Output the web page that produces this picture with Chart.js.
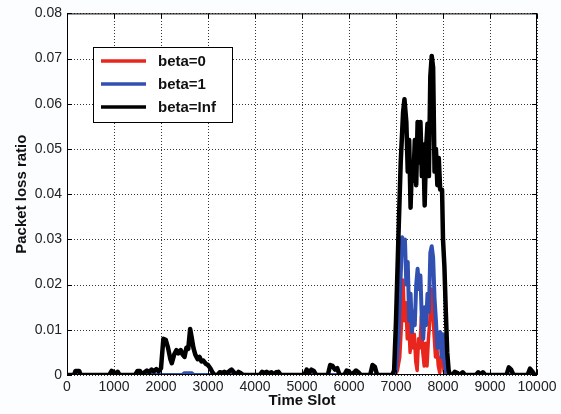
<!DOCTYPE html>
<html>
<head>
<meta charset="utf-8">
<script src="https://cdn.jsdelivr.net/npm/chart.js@4/dist/chart.umd.min.js"></script>
<style>
  html, body { margin: 0; padding: 0; background: #fcfdff; }
  #wrap { width: 561px; height: 414px; }
</style>
</head>
<body>
<div id="wrap"><canvas id="c" width="561" height="414"></canvas></div>
<script>
// ---- data ----
const seriesLabels = ['beta=0', 'beta=1', 'beta=Inf'];
const xTickValues = [0, 1000, 2000, 3000, 4000, 5000, 6000, 7000, 8000, 9000, 10000];
const xTickLabels = ['0', '1000', '2000', '3000', '4000', '5000', '6000', '7000', '8000', '9000', '10000'];
const yTickValues = [0, 0.01, 0.02, 0.03, 0.04, 0.05, 0.06, 0.07, 0.08];
const yTickLabels = ['0', '0.01', '0.02', '0.03', '0.04', '0.05', '0.06', '0.07', '0.08'];

// beta=Inf (black)
const slotsInf = [0,150,180,260,290,900,950,1000,1050,1080,1120,1450,1500,1550,1600,1650,1700,1750,1800,1850,1900,1950,2000,2050,2100,2150,2200,2230,2280,2330,2370,2420,2460,2500,2540,2580,2620,2650,2690,2730,2780,2820,2860,2900,2950,3000,3050,3100,3140,3200,3250,3300,3350,3400,3450,3500,3550,3600,3650,3700,3750,4100,4150,4200,4250,4300,4350,4400,4450,4500,4550,5050,5100,5150,5200,5250,5300,5550,5600,5650,5700,5750,5800,5900,5950,6000,6050,6150,6200,6250,6450,6500,6550,6600,6920,6960,7000,7050,7100,7150,7180,7220,7250,7280,7310,7340,7370,7400,7430,7460,7490,7520,7550,7580,7610,7640,7670,7700,7730,7760,7790,7820,7850,7880,7910,7940,7980,8000,8030,8060,8090,8120,8150,8200,8250,8300,8350,8420,8470,8700,8750,8800,8850,8900,9350,9400,9450,9500,9800,9850,9900,9950,10000];
const lossInf = [0,0,0.0009,0.0009,0,0,0.0009,0.0006,0,0.0007,0,0,0.0009,0.0009,0,0.0006,0.001,0.0006,0.0012,0.0008,0.0013,0.0008,0.0015,0.008,0.0078,0.006,0.0035,0.0026,0.0045,0.0055,0.0048,0.0055,0.0045,0.004,0.006,0.0058,0.0102,0.0085,0.006,0.0045,0.0035,0.004,0.003,0.0032,0.0025,0.0022,0.0015,0.0005,0,0,0.0006,0.0005,0.0007,0.0004,0.0008,0.0012,0.0006,0,0.0007,0.0004,0,0,0.0007,0.0005,0.0007,0.0004,0.0006,0,0.0006,0.0007,0,0,0.0012,0.0005,0.0012,0.0009,0,0,0.0022,0.002,0.0012,0.0015,0,0,0.001,0.0008,0,0.001,0.0006,0,0,0.0022,0.0018,0,0,0.001,0.012,0.03,0.047,0.058,0.061,0.056,0.045,0.052,0.037,0.047,0.043,0.052,0.042,0.056,0.047,0.056,0.044,0.051,0.0375,0.05,0.0556,0.044,0.066,0.0706,0.068,0.045,0.05,0.042,0.048,0.041,0.041,0.03,0.024,0.014,0.005,0.001,0,0,0.0007,0.0005,0,0.0006,0,0,0.0006,0,0.0006,0,0,0.0017,0.0012,0,0,0.0014,0.0008,0,0];

// beta=1 (blue)
const slotsOne = [0,2450,2500,2650,2700,6950,7000,7050,7100,7130,7160,7190,7220,7250,7280,7310,7340,7370,7400,7430,7460,7490,7520,7550,7580,7610,7640,7670,7700,7730,7760,7790,7820,7850,7880,7910,7940,7970,8000,8030,8060,8090,10000];
const lossOne = [0,0,0.0004,0.0004,0,0,0.001,0.008,0.022,0.0305,0.027,0.03,0.02,0.025,0.012,0.018,0.0095,0.014,0.011,0.02,0.0235,0.019,0.022,0.012,0.008,0.015,0.011,0.018,0.014,0.027,0.0285,0.026,0.017,0.012,0.006,0.0085,0.0095,0.004,0.009,0.003,0.001,0,0];

// beta=0 (red)
const slotsZero = [0,2550,2600,2650,6980,7030,7080,7120,7150,7180,7210,7240,7270,7300,7330,7360,7390,7420,7450,7480,7510,7540,7570,7600,7630,7660,7690,7720,7750,7780,7810,7840,7870,7900,7930,7960,7990,8020,8050,10000];
const lossZero = [0,0,0.0003,0,0,0.001,0.004,0.012,0.021,0.012,0.016,0.008,0.012,0.005,0.01,0.006,0.009,0.003,0.001,0.008,0.006,0.013,0.005,0.002,0.007,0.002,0.008,0.012,0.019,0.015,0.009,0.004,0.006,0.002,0.0005,0.004,0.005,0.001,0];

const colors = ['#e8261e', '#3250b2', '#000000'];

function pts(xs, ys) { return xs.map((x, i) => ({ x: x, y: ys[i] })); }

// dotted MATLAB-style grid under the data, at the scales' tick pixels
const dottedGrid = {
  id: 'dottedGrid',
  beforeDatasetsDraw(chart) {
    const ctx = chart.ctx, a = chart.chartArea;
    const xs = chart.scales.x, ys = chart.scales.y;
    ctx.save();
    ctx.fillStyle = '#333333';
    xTickValues.forEach(v => {
      const p = Math.round(xs.getPixelForValue(v));
      for (let y = Math.ceil(a.top) + 1; y < a.bottom; y += 3) ctx.fillRect(p, y, 1, 1);
    });
    yTickValues.forEach(v => {
      const p = Math.round(ys.getPixelForValue(v));
      for (let x = Math.ceil(a.left) + 1; x < a.right; x += 3) ctx.fillRect(x, p, 1, 1);
    });
    ctx.restore();
  }
};

// Frame, inner tick marks and legend drawn MATLAB-style
const matlabBox = {
  id: 'matlabBox',
  afterDatasetsDraw(chart) {
    const ctx = chart.ctx, a = chart.chartArea;
    const xs = chart.scales.x, ys = chart.scales.y;
    ctx.save();
    ctx.strokeStyle = '#000';
    ctx.lineWidth = 1;
    ctx.setLineDash([]);
    ctx.strokeRect(a.left + 0.5, a.top + 0.5, a.right - a.left - 1, a.bottom - a.top - 1);
    const tl = 5;
    ctx.beginPath();
    xTickValues.forEach(v => {
      const p = Math.round(xs.getPixelForValue(v)) + 0.5;
      ctx.moveTo(p, a.bottom); ctx.lineTo(p, a.bottom - tl);
      ctx.moveTo(p, a.top); ctx.lineTo(p, a.top + tl);
    });
    yTickValues.forEach(v => {
      const p = Math.round(ys.getPixelForValue(v)) + 0.5;
      ctx.moveTo(a.left, p); ctx.lineTo(a.left + tl, p);
      ctx.moveTo(a.right, p); ctx.lineTo(a.right - tl, p);
    });
    ctx.stroke();

    // legend box
    const bx = 93, by = 47, bw = 139, bh = 75;
    ctx.fillStyle = '#ffffff';
    ctx.fillRect(bx, by, bw, bh);
    ctx.strokeStyle = '#000';
    ctx.strokeRect(bx + 0.5, by + 0.5, bw, bh);
    const rows = [61, 84, 107];
    ctx.font = 'bold 15px "Liberation Sans", Arial, sans-serif';
    ctx.textBaseline = 'middle';
    ctx.textAlign = 'left';
    seriesLabels.forEach((lab, i) => {
      ctx.strokeStyle = colors[i];
      ctx.lineWidth = 3.5;
      ctx.beginPath();
      ctx.moveTo(101, rows[i]); ctx.lineTo(146, rows[i]);
      ctx.stroke();
      ctx.fillStyle = '#111';
      ctx.fillText(lab, 158, rows[i] + 1);
    });
    ctx.restore();
  }
};

const bg = {
  id: 'bg',
  beforeDraw(chart) {
    const ctx = chart.ctx;
    ctx.save();
    ctx.fillStyle = '#fcfdff';
    ctx.fillRect(0, 0, chart.width, chart.height);
    const a = chart.chartArea;
    ctx.fillStyle = '#ffffff';
    ctx.fillRect(a.left, a.top, a.right - a.left, a.bottom - a.top);
    ctx.restore();
  }
};

new Chart(document.getElementById('c'), {
  type: 'line',
  data: {
    datasets: [
      { label: seriesLabels[0], data: pts(slotsZero, lossZero), borderColor: colors[0], borderWidth: 3.5, order: 3 },
      { label: seriesLabels[1], data: pts(slotsOne, lossOne), borderColor: colors[1], borderWidth: 4, order: 2 },
      { label: seriesLabels[2], data: pts(slotsInf, lossInf), borderColor: colors[2], borderWidth: 4.5, order: 1 }
    ]
  },
  options: {
    responsive: false,
    animation: false,
    events: [],
    elements: { point: { radius: 0 }, line: { tension: 0, fill: false, borderJoinStyle: 'round', borderCapStyle: 'round' } },
    layout: { padding: { left: 0, right: 24, top: 13, bottom: 0 } },
    plugins: { legend: { display: false }, tooltip: { enabled: false } },
    scales: {
      x: {
        type: 'linear', min: 0, max: 10000,
        afterFit: s => { s.height = 39; },
        afterBuildTicks: s => { s.ticks = xTickValues.map(v => ({ value: v })); },
        ticks: { padding: 4, color: '#222', font: { family: '"Liberation Sans", Arial, sans-serif', size: 14 }, maxRotation: 0, autoSkip: false,
                 callback: (v, i) => xTickLabels[i] },
        grid: { display: false, drawTicks: false, tickLength: 0 },
        border: { display: false },
        title: { display: true, text: 'Time Slot', color: '#111', padding: { top: 0, bottom: 4 }, font: { family: '"Liberation Sans", Arial, sans-serif', size: 15, weight: 'bold' } }
      },
      y: {
        type: 'linear', min: 0, max: 0.08,
        afterFit: s => { s.width = 67; },
        afterBuildTicks: s => { s.ticks = yTickValues.map(v => ({ value: v })); },
        ticks: { padding: 5, color: '#222', font: { family: '"Liberation Sans", Arial, sans-serif', size: 14 }, autoSkip: false,
                 callback: (v, i) => yTickLabels[i] },
        grid: { display: false, drawTicks: false, tickLength: 0 },
        border: { display: false },
        title: { display: true, text: 'Packet loss ratio', color: '#111', padding: { top: 13, bottom: 0 }, font: { family: '"Liberation Sans", Arial, sans-serif', size: 15, weight: 'bold' } }
      }
    }
  },
  plugins: [bg, dottedGrid, matlabBox]
});
</script>
</body>
</html>
